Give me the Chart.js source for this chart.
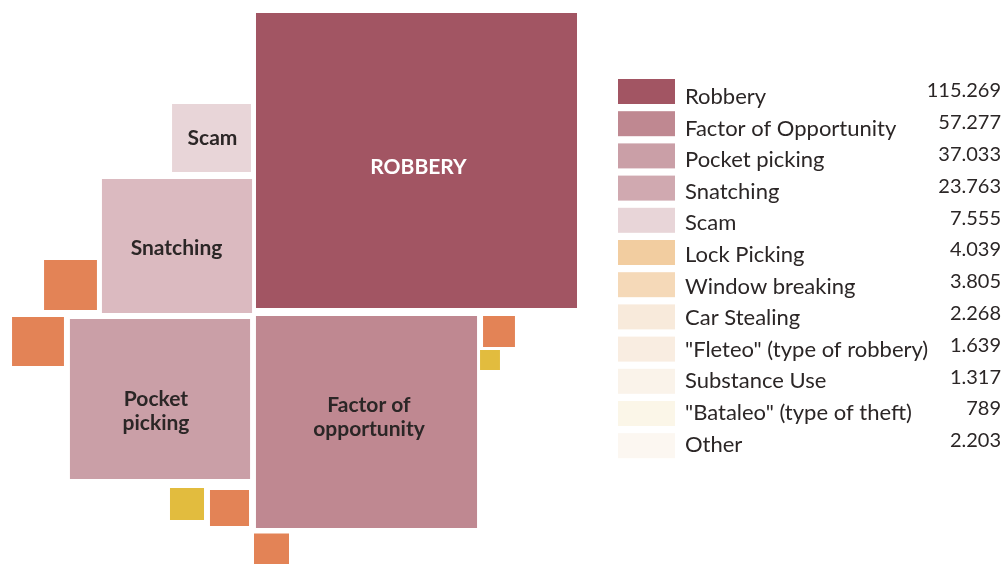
<!DOCTYPE html>
<html>
<head>
<meta charset="utf-8">
<script src="https://cdn.jsdelivr.net/npm/chart.js@4.4.1/dist/chart.umd.min.js"></script>
<style>
  html, body { margin: 0; padding: 0; background: #ffffff; }
  #wrap { width: 1006px; height: 564px; position: relative; }
</style>
</head>
<body>
<div id="wrap"><canvas id="myChart"></canvas></div>
<script>

// data
const categories = ['Robbery', 'Factor of Opportunity', 'Pocket picking', 'Snatching', 'Scam', 'Lock Picking',
    'Window breaking', 'Car Stealing', '"Fleteo" (type of robbery)', 'Substance Use', '"Bataleo" (type of theft)', 'Other']
const counts = [115269, 57277, 37033, 23763, 7555, 4039, 3805, 2268, 1639, 1317, 789, 2203]
const boxLabels = ['ROBBERY', 'Factor of|opportunity', 'Pocket|picking', 'Snatching', 'Scam', '', '', '', '', '', '', '']

// styles
const legendColors = ['#A25563', '#BF8891', '#CA9FA7', '#D0A9B0', '#E8D5D8', '#F2CDA0',
    '#F5D9B8', '#F8EADB', '#F9EDE1', '#FAF3EA', '#FBF6E8', '#FCF7F1']
const boxColors = ['#A25563', '#BF8891', '#CA9FA7', '#DBBAC0', '#E8D5D8', '#E38356',
    '#E38356', '#E38356', '#E38356', '#E38356', '#E2BC3E', '#E2BC3E']

// layout of the squares (centre in axis units, size factors)
const centerX = [416.5, 366.5, 160, 177, 211.5, 70.5, 38, 229.5, 271.5, 499, 490, 187]
const centerY = [160.5, 422, 399, 246, 138, 285, 341.5, 508, 549.5, 331.5, 360, 504]
const sizeX = [1, 0.977, 0.99, 1.03, 0.96, 0.88, 0.89, 0.867, 0.914, 0.93, 0.75, 0.767]
const sizeY = [1, 1.02, 0.957, 1.0, 0.90, 0.905, 0.914, 0.87, 0.91, 0.98, 0.82, 0.785]
const labelDx = [2, 2.5, -4, -0.5, 1, 0, 0, 0, 0, 0, 0, 0]
const labelDy = [6.5, -4.5, 12, 2, 0.5, 0, 0, 0, 0, 0, 0, 0]
const KX = 0.9455
const KY = 0.869

const fmt = (n) => String(n).replace(/\B(?=(\d{3})+(?!\d))/g, '.')

const datasets = categories.map((cat, i) => {
    const hw = Math.sqrt(counts[i]) * KX * sizeX[i] / 2
    const hh = Math.sqrt(counts[i]) * KY * sizeY[i] / 2
    const x0 = centerX[i] - hw, x1 = centerX[i] + hw
    const y0 = centerY[i] - hh, y1 = centerY[i] + hh
    return {
        label: cat,
        data: [{x: x0, y: y0}, {x: x1, y: y0}, {x: x1, y: y1}, {x: x0, y: y1}, {x: x0, y: y0}],
        showLine: true,
        fill: 'shape',
        backgroundColor: boxColors[i],
        borderColor: 'rgba(0,0,0,0)',
        borderWidth: 0,
        pointRadius: 0,
        pointHoverRadius: 0,
        tension: 0
    }
})

const boxText = {
    id: 'boxText',
    afterDatasetsDraw(chart) {
        const {ctx, scales} = chart
        ctx.save()
        ctx.textAlign = 'center'
        ctx.textBaseline = 'middle'
        ctx.font = 'bold 21px Lato'
        boxLabels.forEach((txt, i) => {
            if (!txt) return
            const lines = txt.split('|')
            const px = scales.x.getPixelForValue(centerX[i]) + labelDx[i]
            const py = scales.y.getPixelForValue(centerY[i]) + labelDy[i]
            ctx.fillStyle = i === 0 ? '#ffffff' : '#2b2626'
            lines.forEach((ln, k) => {
                ctx.fillText(ln, px, py + (k - (lines.length - 1) / 2) * 24)
            })
        })
        ctx.restore()
    }
}

const sideLegend = {
    id: 'sideLegend',
    afterDraw(chart) {
        const ctx = chart.ctx
        ctx.save()
        categories.forEach((cat, i) => {
            ctx.fillStyle = legendColors[i]
            ctx.fillRect(618, 79 + i * 32.2, 57, 25)
            ctx.fillStyle = '#2b2626'
            ctx.textBaseline = 'middle'
            ctx.textAlign = 'left'
            ctx.font = '22px Lato'
            ctx.fillText(cat, 685, 97 + i * 31.6)
            ctx.textAlign = 'right'
            ctx.font = '20px Lato'
            ctx.fillText(fmt(counts[i]), 1001, 91 + i * 31.8)
        })
        ctx.restore()
    }
}

const ctx = document.getElementById('myChart')
const myChart = new Chart(ctx, {
    type: 'scatter',
    data: { datasets: datasets },
    options: {
        responsive: true,
        maintainAspectRatio: false,
        animation: false,
        layout: { padding: 0 },
        scales: {
            x: { type: 'linear', display: false, min: 0, max: 1006 },
            y: { type: 'linear', display: false, min: 0, max: 564, reverse: true }
        },
        plugins: {
            legend: { display: false },
            tooltip: { enabled: false }
        }
    },
    plugins: [boxText, sideLegend]
})
</script>
</body>
</html>
